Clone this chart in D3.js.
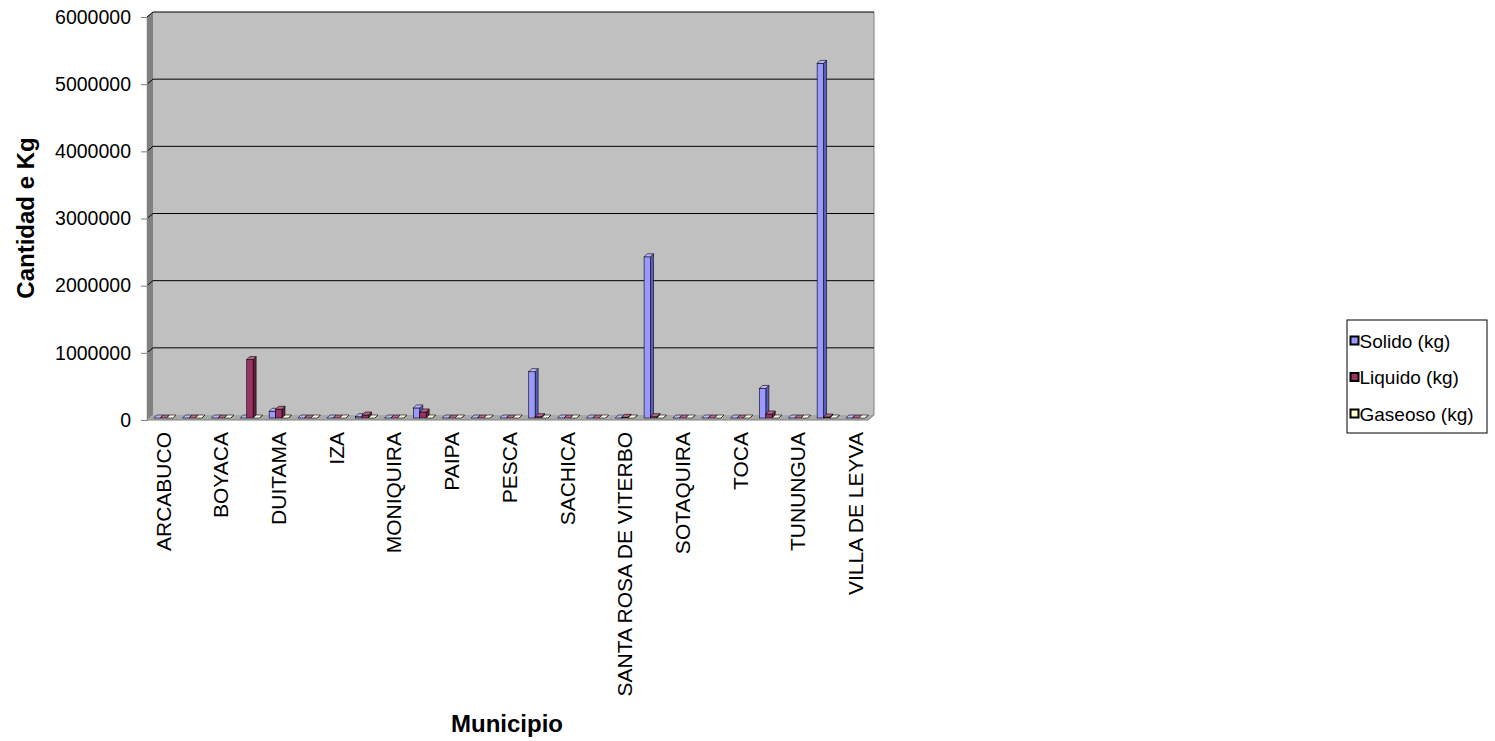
<!DOCTYPE html>
<html>
<head>
<meta charset="utf-8">
<script src="https://cdn.jsdelivr.net/npm/d3@7"></script>
<style>
  html, body { margin: 0; padding: 0; background: #fff; }
  text { font-family: "Liberation Sans", Arial, sans-serif; }
</style>
</head>
<body>
<svg id="chart" width="1495" height="741"></svg>
<script>
// municipios (only every other name is printed on the axis)
var municipios = ["ARCABUCO", "BELEN", "BOYACA", "CHIQUINQUIRA", "DUITAMA", "FIRAVITOBA",
  "IZA", "MONGUA", "MONIQUIRA", "NOBSA", "PAIPA", "PAUNA", "PESCA", "RAQUIRA", "SACHICA",
  "SAMACA", "SANTA ROSA DE VITERBO", "SOGAMOSO", "SOTAQUIRA", "TIBASOSA", "TOCA", "TUNJA",
  "TUNUNGUA", "TUTA", "VILLA DE LEYVA"];

var solido  = [0, 0, 0, 0, 100000, 0, 0, 20000, 0, 150000, 0, 0, 0, 690000, 0, 0, 0,
  2400000, 0, 0, 0, 440000, 0, 5280000, 0];
var liquido = [0, 0, 0, 870000, 130000, 0, 0, 45000, 0, 90000, 0, 0, 0, 20000, 0, 0, 10000,
  20000, 0, 0, 0, 60000, 0, 15000, 0];
var gaseoso = [0, 0, 0, 0, 0, 0, 0, 0, 0, 0, 0, 0, 0, 0, 0, 0, 0, 0, 0, 0, 0, 0, 0, 0, 0];

var seriesNames = ["Solido (kg)", "Liquido (kg)", "Gaseoso (kg)"];
var yTicks = [0, 1000000, 2000000, 3000000, 4000000, 5000000, 6000000];

// colours: front, side, top
var colors = [
  {front: "#9999ff", side: "#5c5cc0", top: "#b8b8ff"},
  {front: "#993366", side: "#66223f", top: "#b8668c"},
  {front: "#ffffcc", side: "#b3b38c", top: "#ffffe6"}
];

var svg = d3.select("#chart");

// front edge of the plot
var x0 = 147, x1 = 868, yFloor = 420, yTop = 17;
// depth of the walls
var DX = 6, DY = 5;

var y = d3.scaleLinear().domain([0, 6000000]).range([yFloor, yTop]);
var x = d3.scaleBand().domain(municipios).range([x0, x1]);
var sub = d3.scaleBand().domain(seriesNames).range([0, x.bandwidth()]).paddingOuter(0.75);

var g = svg.append("g");

// left side wall
g.append("polygon")
  .attr("points", [[x0, y(6000000)], [x0 + DX, y(6000000) - DY], [x0 + DX, yFloor - DY], [x0, yFloor]].join(" "))
  .attr("fill", "#808080").attr("stroke", "#808080").attr("stroke-width", 0.5);

// back wall
g.append("rect")
  .attr("x", x0 + DX).attr("y", y(6000000) - DY)
  .attr("width", x1 - x0).attr("height", yFloor - y(6000000))
  .attr("fill", "#c0c0c0");

// floor
g.append("polygon")
  .attr("points", [[x0, yFloor], [x0 + DX, yFloor - DY], [x1 + DX, yFloor - DY], [x1, yFloor]].join(" "))
  .attr("fill", "#a8a8a8");

// front edge of the floor and right edge of the wall
g.append("path")
  .attr("d", "M" + x0 + "," + yFloor + "L" + x1 + "," + yFloor + "L" + (x1 + DX) + "," + (yFloor - DY) + "V" + (y(6000000) - DY))
  .attr("fill", "none").attr("stroke", "#808080").attr("stroke-width", 1);

// gridlines on the back wall (skip zero)
g.selectAll(".grid")
  .data(yTicks.filter(function(d) { return d > 0; }))
  .enter().append("path")
  .attr("class", "grid")
  .attr("d", function(d) {
    return "M" + x0 + "," + y(d) + "L" + (x0 + DX) + "," + (y(d) - DY) + "H" + (x1 + DX);
  })
  .attr("fill", "none").attr("stroke", "#000").attr("stroke-width", 1);

// y axis
var yAxis = d3.axisLeft(y).tickValues(yTicks).tickSize(6).tickPadding(10)
  .tickFormat(function(d) { return d3.format("d")(d); });
var ya = svg.append("g").attr("transform", "translate(" + x0 + ",0)").call(yAxis);
ya.select(".domain").attr("stroke", "#808080");
ya.selectAll(".tick line").attr("stroke", "#808080");
ya.selectAll("text").style("font-size", "19.5px").attr("fill", "#000")
  .style("font-family", "'Liberation Sans', Arial, sans-serif");

// bars
var bx = 2, by = 2;   // bar position inside the depth
var bdx = 3, bdy = 3; // bar depth
var w = sub.bandwidth();
var series = [solido, liquido, gaseoso];

series.forEach(function(vals, s) {
  var col = colors[s];
  var bars = g.selectAll(".bar" + s)
    .data(vals.map(function(v, i) { return {name: municipios[i], value: v}; }))
    .enter().append("g").attr("class", "bar" + s);

  bars.each(function(d) {
    var el = d3.select(this);
    var xl = x(d.name) + sub(seriesNames[s]) + bx;
    var yb = y(0) - by;
    var yt = y(d.value) - by;
    // side face
    el.append("polygon")
      .attr("points", [[xl + w, yt], [xl + w + bdx, yt - bdy], [xl + w + bdx, yb - bdy], [xl + w, yb]].join(" "))
      .attr("fill", col.side).attr("stroke", "#000").attr("stroke-width", 0.6);
    // front face
    if (yb - yt > 0) {
      el.append("rect")
        .attr("x", xl).attr("y", yt).attr("width", w).attr("height", yb - yt)
        .attr("fill", col.front).attr("stroke", "#000").attr("stroke-width", 0.6);
    }
    // top face
    el.append("polygon")
      .attr("points", [[xl, yt], [xl + bdx, yt - bdy], [xl + w + bdx, yt - bdy], [xl + w, yt]].join(" "))
      .attr("fill", col.top).attr("stroke", "#000").attr("stroke-width", 0.6);
  });
});

// x labels: every other municipio
svg.append("g").selectAll("text")
  .data(municipios.filter(function(d, i) { return i % 2 === 0; }))
  .enter().append("text")
  .attr("transform", function(d) {
    return "translate(" + (x(d) + x.bandwidth() / 2 + 2) + ",432) rotate(-90)";
  })
  .attr("text-anchor", "end")
  .attr("dy", "0.35em")
  .style("font-size", "21px")
  .text(function(d) { return d; });

// axis titles
svg.append("text")
  .attr("transform", "translate(34,218) rotate(-90)")
  .attr("text-anchor", "middle")
  .style("font-size", "24px").style("font-weight", "bold")
  .text("Cantidad e Kg");

svg.append("text")
  .attr("x", 507).attr("y", 732)
  .attr("text-anchor", "middle")
  .style("font-size", "24px").style("font-weight", "bold")
  .text("Municipio");

// legend
var lg = svg.append("g").attr("transform", "translate(1347,320)");
lg.append("rect").attr("width", 140).attr("height", 113)
  .attr("fill", "#fff").attr("stroke", "#000").attr("stroke-width", 1);
var rows = lg.selectAll(".row").data(seriesNames).enter().append("g")
  .attr("transform", function(d, i) { return "translate(0," + (21 + i * 36.5) + ")"; });
rows.append("rect").attr("x", 3.5).attr("y", -4.5).attr("width", 8).attr("height", 8)
  .attr("fill", function(d, i) { return colors[i].front; })
  .attr("stroke", "#000").attr("stroke-width", 2);
rows.append("text").attr("x", 12.5).attr("dy", "0.35em")
  .style("font-size", "19px")
  .text(function(d) { return d; });
</script>
</body>
</html>
